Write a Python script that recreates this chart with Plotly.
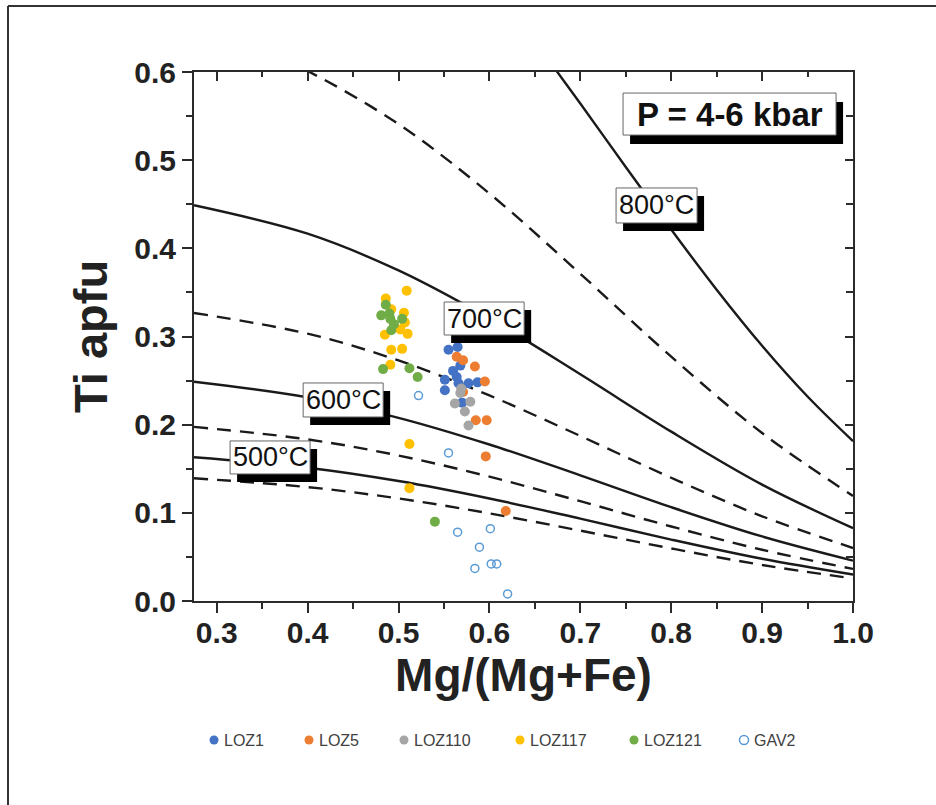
import plotly.graph_objects as go

# ---- Biotite analyses: Mg/(Mg+Fe) vs Ti (apfu) ----
LOZ1_X = [0.555, 0.565, 0.568, 0.560, 0.564, 0.551, 0.566, 0.577, 0.587, 0.551, 0.570]
LOZ1_Y = [0.285, 0.288, 0.267, 0.261, 0.254, 0.251, 0.247, 0.247, 0.248, 0.239, 0.225]

LOZ5_X = [0.564, 0.571, 0.584, 0.595, 0.571, 0.585, 0.597, 0.596, 0.618]
LOZ5_Y = [0.277, 0.273, 0.266, 0.249, 0.237, 0.205, 0.205, 0.164, 0.102]

LOZ110_X = [0.569, 0.568, 0.562, 0.579, 0.573, 0.577]
LOZ110_Y = [0.241, 0.236, 0.224, 0.226, 0.215, 0.199]

LOZ117_X = [0.509, 0.486, 0.492, 0.506, 0.507, 0.485, 0.502, 0.510, 0.492, 0.504, 0.491, 0.512, 0.512]
LOZ117_Y = [0.352, 0.343, 0.331, 0.327, 0.316, 0.302, 0.308, 0.303, 0.285, 0.286, 0.268, 0.178, 0.128]

LOZ121_X = [0.486, 0.481, 0.490, 0.491, 0.504, 0.495, 0.492, 0.483, 0.512, 0.521, 0.540]
LOZ121_Y = [0.336, 0.324, 0.326, 0.320, 0.320, 0.314, 0.307, 0.263, 0.264, 0.254, 0.090]

GAV2_X = [0.522, 0.555, 0.565, 0.601, 0.589, 0.584, 0.602, 0.608, 0.620]
GAV2_Y = [0.233, 0.168, 0.078, 0.082, 0.061, 0.037, 0.042, 0.042, 0.008]

SERIES_NAMES = ["LOZ1", "LOZ5", "LOZ110", "LOZ117", "LOZ121", "GAV2"]
SERIES_COLORS = ["#4472C4", "#ED7D31", "#A5A5A5", "#FFC000", "#70AD47", "#5B9BD5"]

# ---- Isotherms (Ti apfu along Mg/(Mg+Fe)) ----
ISO_X = [0.275, 0.4, 0.5, 0.6, 0.7, 0.8, 0.9, 1.0]
ISO_450 = [0.1392, 0.1292, 0.1163, 0.0994, 0.0798, 0.0596, 0.0409, 0.0256]
ISO_500 = [0.1630, 0.1512, 0.1361, 0.1163, 0.0934, 0.0697, 0.0479, 0.0300]
ISO_550 = [0.1975, 0.1833, 0.1650, 0.1410, 0.1132, 0.0845, 0.0581, 0.0364]
ISO_600 = [0.2487, 0.2309, 0.2078, 0.1775, 0.1425, 0.1064, 0.0732, 0.0458]
ISO_650 = [0.3267, 0.3032, 0.2728, 0.2331, 0.1872, 0.1398, 0.0961, 0.0601]
ISO_700 = [0.4489, 0.4166, 0.3749, 0.3203, 0.2572, 0.1921, 0.1320, 0.0826]
ISO_750_X = [0.35, 0.4, 0.5, 0.6, 0.7, 0.8, 0.9, 1.0]
ISO_750 = [0.6234, 0.6011, 0.5409, 0.4622, 0.3711, 0.2771, 0.1905, 0.1192]
ISO_800_X = [0.65, 0.7, 0.75, 0.8, 0.85, 0.9, 0.95, 1.0]
ISO_800 = [0.6350, 0.5642, 0.4923, 0.4213, 0.3531, 0.2895, 0.2319, 0.1813]

X_TICKS = [0.3, 0.4, 0.5, 0.6, 0.7, 0.8, 0.9, 1.0]
Y_TICKS = [0.0, 0.1, 0.2, 0.3, 0.4, 0.5, 0.6]
X_MINOR = [0.35, 0.45, 0.55, 0.65, 0.75, 0.85, 0.95]
Y_MINOR = [0.05, 0.15, 0.25, 0.35, 0.45, 0.55]

FONT = "Liberation Sans, Arial, sans-serif"
AXIS_COLOR = "#2b2b2b"

fig = go.Figure()

isotherms = [
    (ISO_X, ISO_450, "dash"),
    (ISO_X, ISO_500, "solid"),
    (ISO_X, ISO_550, "dash"),
    (ISO_X, ISO_600, "solid"),
    (ISO_X, ISO_650, "dash"),
    (ISO_X, ISO_700, "solid"),
    (ISO_750_X, ISO_750, "dash"),
    (ISO_800_X, ISO_800, "solid"),
]
for xs, ys, style in isotherms:
    fig.add_trace(go.Scatter(
        x=xs, y=ys, mode="lines",
        line=dict(color="#1a1a1a", width=2.4, shape="spline",
                  dash="14px,9px" if style == "dash" else "solid"),
        hoverinfo="skip", showlegend=False,
    ))

point_sets = [
    (LOZ1_X, LOZ1_Y), (LOZ5_X, LOZ5_Y), (LOZ110_X, LOZ110_Y),
    (LOZ117_X, LOZ117_Y), (LOZ121_X, LOZ121_Y), (GAV2_X, GAV2_Y),
]
for (xs, ys), name, color in zip(point_sets, SERIES_NAMES, SERIES_COLORS):
    if name == "GAV2":
        marker = dict(symbol="circle-open", size=8, color=color, line=dict(width=1.5, color=color))
    else:
        marker = dict(symbol="circle", size=10, color=color, line=dict(width=0))
    fig.add_trace(go.Scatter(x=xs, y=ys, mode="markers", name=name,
                             marker=marker, showlegend=False))

# placeholder trace so the mirrored top/right axes are drawn
fig.add_trace(go.Scatter(x=[None], y=[None], xaxis="x2", yaxis="y2",
                         showlegend=False, hoverinfo="skip"))

X_RANGE = [0.275, 1.0]
Y_RANGE = [0.0, 0.6]

fig.update_layout(
    width=936, height=805,
    margin=dict(l=194, r=83, t=72, b=204),
    paper_bgcolor="white", plot_bgcolor="white",
    showlegend=False,
    xaxis=dict(
        range=X_RANGE, tickvals=X_TICKS, ticktext=[f"{v:.1f}" for v in X_TICKS],
        ticks="outside", ticklen=10, tickwidth=2, tickcolor=AXIS_COLOR,
        minor=dict(ticks="outside", ticklen=6, tickwidth=2, tickcolor=AXIS_COLOR,
                   tickvals=X_MINOR),
        showline=True, linewidth=2, linecolor=AXIS_COLOR,
        showgrid=False, zeroline=False,
        ticklabelstandoff=-6,
        tickfont=dict(family=FONT, size=30, color="#222", weight="bold"),
        title=dict(text="Mg/(Mg+Fe)", standoff=0,
                   font=dict(family=FONT, size=46, color="#222", weight="bold")),
    ),
    yaxis=dict(
        range=Y_RANGE, tickvals=Y_TICKS, ticktext=[f"{v:.1f}" for v in Y_TICKS],
        ticks="outside", ticklen=10, tickwidth=2, tickcolor=AXIS_COLOR,
        minor=dict(ticks="outside", ticklen=6, tickwidth=2, tickcolor=AXIS_COLOR,
                   tickvals=Y_MINOR),
        showline=True, linewidth=2, linecolor=AXIS_COLOR,
        showgrid=False, zeroline=False,
        tickfont=dict(family=FONT, size=30, color="#222", weight="bold"),
        title=dict(text="Ti apfu", standoff=12,
                   font=dict(family=FONT, size=47, color="#222", weight="bold")),
    ),
    xaxis2=dict(
        overlaying="x", side="top", range=X_RANGE,
        tickvals=X_TICKS, ticks="inside", ticklen=9, tickwidth=2, tickcolor=AXIS_COLOR,
        minor=dict(ticks="inside", ticklen=5, tickwidth=2, tickcolor=AXIS_COLOR,
                   tickvals=X_MINOR),
        showticklabels=False, showline=True, linewidth=2, linecolor=AXIS_COLOR,
        showgrid=False, zeroline=False,
    ),
    yaxis2=dict(
        overlaying="y", side="right", range=Y_RANGE,
        tickvals=Y_TICKS, ticks="inside", ticklen=8, tickwidth=2, tickcolor=AXIS_COLOR,
        minor=dict(ticks="inside", ticklen=7, tickwidth=2, tickcolor=AXIS_COLOR,
                   tickvals=Y_MINOR),
        showticklabels=False, showline=True, linewidth=2, linecolor=AXIS_COLOR,
        showgrid=False, zeroline=False,
    ),
)

# ---- Boxed labels with a heavy drop shadow (box sizes in pixels) ----
def boxed_label(text, x, y, w, h, size, bold=False, dx=7, dy=8):
    weight = "bold" if bold else "normal"
    common = dict(xref="x", yref="y", xsizemode="pixel", ysizemode="pixel",
                  xanchor=x, yanchor=y, layer="above")
    fig.add_shape(type="rect", x0=-w / 2 + dx, x1=w / 2 + dx,
                  y0=-h / 2 - dy, y1=h / 2 - dy,
                  fillcolor="black", line=dict(color="black", width=0), **common)
    fig.add_shape(type="rect", x0=-w / 2, x1=w / 2, y0=-h / 2, y1=h / 2,
                  fillcolor="white", line=dict(color="#666", width=1), **common)
    fig.add_annotation(x=x, y=y, xref="x", yref="y", text=text, showarrow=False,
                       xanchor="center", yanchor="middle",
                       font=dict(family=FONT, size=size, color="#111", weight=weight))

boxed_label("800\u00b0C", 0.7839, 0.4486, 81, 35, 27)
boxed_label("700\u00b0C", 0.5942, 0.3204, 80, 33, 27)
boxed_label("600\u00b0C", 0.4391, 0.2280, 80, 34, 27)
boxed_label("500\u00b0C", 0.3587, 0.1628, 80, 33, 27)
boxed_label("P = 4-6 kbar", 0.8642, 0.5523, 213, 42, 33, bold=True, dx=7, dy=9)

# ---- Legend row below the plot ----
PLOT_L, PLOT_W, PLOT_B, PLOT_H = 194, 659, 601, 529
LEGEND_PX = [214, 309, 404, 520, 634, 744]
LEGEND_PY = 740

def to_paper(px, py):
    return (px - PLOT_L) / PLOT_W, (PLOT_B - py) / PLOT_H

for name, color, px in zip(SERIES_NAMES, SERIES_COLORS, LEGEND_PX):
    cx, cy = to_paper(px, LEGEND_PY)
    rx, ry = 4.5 / PLOT_W, 4.5 / PLOT_H
    if name == "GAV2":
        fig.add_shape(type="circle", xref="paper", yref="paper",
                      x0=cx - rx, x1=cx + rx, y0=cy - ry, y1=cy + ry,
                      line=dict(color=color, width=1.5), fillcolor="rgba(0,0,0,0)")
    else:
        fig.add_shape(type="circle", xref="paper", yref="paper",
                      x0=cx - rx, x1=cx + rx, y0=cy - ry, y1=cy + ry,
                      line=dict(color=color, width=0), fillcolor=color)
    tx, ty = to_paper(px + 8, LEGEND_PY)
    fig.add_annotation(x=tx, y=ty, xref="paper", yref="paper", text=name,
                       showarrow=False, xanchor="left", yanchor="middle",
                       font=dict(family=FONT, size=16, color="#404040"))

# ---- Outer frame (left and top edges) ----
fl, ft = to_paper(8, 6)
fr, fb = to_paper(936, 805)
fig.add_shape(type="line", xref="paper", yref="paper", x0=fl, x1=fl, y0=ft, y1=fb,
              line=dict(color="#333", width=2))
fig.add_shape(type="line", xref="paper", yref="paper", x0=fl, x1=fr, y0=ft, y1=ft,
              line=dict(color="#333", width=2))

fig.write_html("out.html")
